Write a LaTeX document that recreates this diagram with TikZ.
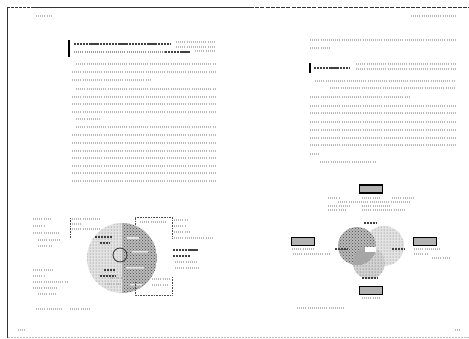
\documentclass[tikz,border=0pt]{standalone}
\usetikzlibrary{patterns,positioning}

\tikzset{
  txt/.style={draw=gray!55,line width=1.4pt,dash pattern=on 1pt off 1.1pt},
  txtb/.style={draw=black!75,line width=2pt,dash pattern=on 2.2pt off 0.7pt},
  rule/.style={draw=black!80,line width=0.9pt},
  bracket/.style={draw=black!70,line width=0.9pt,dash pattern=on 0.8pt off 0.8pt},
  venbox/.style={draw=black,line width=1.1pt,fill=gray!60,
    minimum width=23pt,minimum height=8pt,inner sep=0pt},
  light/.style={fill=gray!22},
  dark/.style={fill=gray!55},
}

\begin{document}
\begin{tikzpicture}[x=1pt,y=-1pt]
\useasboundingbox (0,0) rectangle (469,338);
\fill[white] (0,0) rectangle (469,338);

% frame of the spread
\draw[rule,dash pattern=on 3pt off 1pt] (7,7.5) -- (33,7.5);
\draw[rule] (33,7.5) -- (250,7.5);
\draw[rule,dash pattern=on 4pt off 1.2pt] (250,7.5) -- (469,7.5);
\draw[rule,line width=1.2pt] (7.5,7.5) -- (7.5,338);
\draw[draw=gray!50,line width=0.8pt,dash pattern=on 2pt off 1pt] (7.5,337) -- (469,337);

% running heads and folios
\draw[txt] (36,16) -- (52,16);
\draw[txt] (411,16) -- (457,16);
\draw[txt] (18,330) -- (25,330);
\draw[txt] (455,330) -- (461,330);

%%% left page
\fill[black] (67.5,40) rectangle (70,57);
\draw[txtb] (74,44) -- (170,44);
\draw[txt] (176,42) -- (215,42) (176,47) -- (215,47);
\draw[txt,draw=gray!80] (74,52) -- (165,52);
\draw[txtb] (165,52) -- (190,52);
\draw[txt] (195,51) -- (215,51);

\foreach \y in {72,97,104,112,135,143,151,158,166,173,181}
  \draw[txt] (72,\y) -- (215,\y);
\foreach \y in {64,89,127}
  \draw[txt] (76,\y) -- (215,\y);
\draw[txt] (72,80) -- (150,80);
\draw[txt] (76,119) -- (100,119);

% figure, left page
\coordinate (o) at (122,258);
\begin{scope}
  \clip (o) circle (35);
  \fill[light] (87,223) rectangle (122,293);
  \fill[pattern=dots,pattern color=black!60] (87,223) rectangle (122,293);
  \fill[dark] (122,223) rectangle (157,293);
  \fill[pattern=crosshatch dots,pattern color=black!70] (122,223) rectangle (157,293);
\end{scope}
\fill[white!80!gray] (127,237) rectangle (139,239) (132,251) rectangle (148,252.5)
  (126,267) rectangle (144,268.5) (130,284) rectangle (142,285.5);
\draw[black!75,line width=0.9pt] (120,255) circle (7);
\draw[txtb] (95,237) -- (112,237) (100,243) -- (109,243);
\draw[txtb] (104,270) -- (115,270) (100,276) -- (116,276);

\coordinate (ta) at (135,225);
\coordinate (tb) at (135,217);
\coordinate (tc) at (172,217);
\coordinate (td) at (172,239);
\draw[bracket] (ta) -- (tb) -- (tc) -- (td);
\coordinate (ba) at (135,282);
\coordinate (bb) at (135,295);
\coordinate (bc) at (172,295);
\coordinate (bd) at (172,277);
\draw[bracket] (ba) -- (bb) -- (bc) -- (bd);
\coordinate (la) at (70,218);
\coordinate (lb) at (70,238);
\draw[bracket] (la) -- (lb);

\draw[txt] (140,222) -- (166,222) (174,220) -- (188,220) (174,226) -- (186,226)
  (174,232) -- (190,232) (174,238) -- (212,238);
\draw[txtb] (173,250) -- (198,250) (173,256) -- (190,256);
\draw[txt] (175,262) -- (198,262) (175,268) -- (200,268);
\draw[txt] (152,279) -- (170,279) (152,285) -- (168,285);
\draw[txt] (72,219) -- (100,219) (72,224) -- (82,224) (72,229) -- (100,229);
\draw[txt] (110,278) -- (130,278) (105,284) -- (130,284);
\draw[txt] (33,219) -- (50,219) (33,226) -- (45,226) (33,233) -- (60,233)
  (38,240) -- (60,240) (38,246) -- (52,246);
\draw[txt] (33,270) -- (52,270) (33,276) -- (45,276) (33,282) -- (68,282)
  (33,288) -- (58,288) (38,294) -- (55,294);
\draw[txt] (36,309) -- (62,309) (70,309) -- (90,309);

%%% right page
\draw[txt] (310,40) -- (455,40);
\draw[txt] (310,48) -- (330,48);
\fill[black] (308.5,63) rectangle (311,73);
\draw[txtb] (314,68) -- (350,68);
\draw[txt] (356,64) -- (455,64) (356,69) -- (455,69);
\draw[txt] (315,81) -- (455,81);
\draw[txt] (330,88) -- (455,88);
\draw[txt] (310,97) -- (410,97);
\foreach \y in {106,113,122,130,138,145}
  \draw[txt] (310,\y) -- (455,\y);
\draw[txt] (310,154) -- (320,154);
\draw[txt] (320,162) -- (375,162);

% figure, right page
\fill[light] (384,246) circle (20);
\fill[pattern=dots,pattern color=black!60] (384,246) circle (20);
\fill[gray!35] (369,263) circle (16);
\fill[pattern=dots,pattern color=black!70] (369,263) circle (16);
\fill[dark] (357,246) circle (19);
\fill[pattern=crosshatch dots,pattern color=black!70] (357,246) circle (19);
\begin{scope}
  \clip (357,246) circle (19);
  \fill[gray!70] (369,263) circle (16);
\end{scope}
\node[venbox] (top) at (371,189) {};
\node[venbox] (left) at (303,241.5) {};
\node[venbox] (right) at (425,241.5) {};
\node[venbox] (bottom) at (371,290.5) {};
\fill[white] (365,247) rectangle (376,252);

\draw[txtb,line width=1.6pt] (364,223) -- (376,223) (335,249) -- (347,249)
  (392,249) -- (404,249) (362,278) -- (378,278);
\draw[txt] (328,198) -- (340,198) (362,198) -- (380,198) (392,198) -- (415,198)
  (338,202) -- (410,202) (328,206) -- (350,206) (362,206) -- (390,206)
  (328,210) -- (345,210) (362,210) -- (405,210);
\draw[txt] (292,249) -- (315,249) (293,254) -- (330,254);
\draw[txt] (414,249) -- (440,249) (414,254) -- (428,254) (432,258) -- (450,258);
\draw[txt] (362,298) -- (380,298);
\draw[txt] (297,308) -- (345,308);
\end{tikzpicture}
\end{document}
